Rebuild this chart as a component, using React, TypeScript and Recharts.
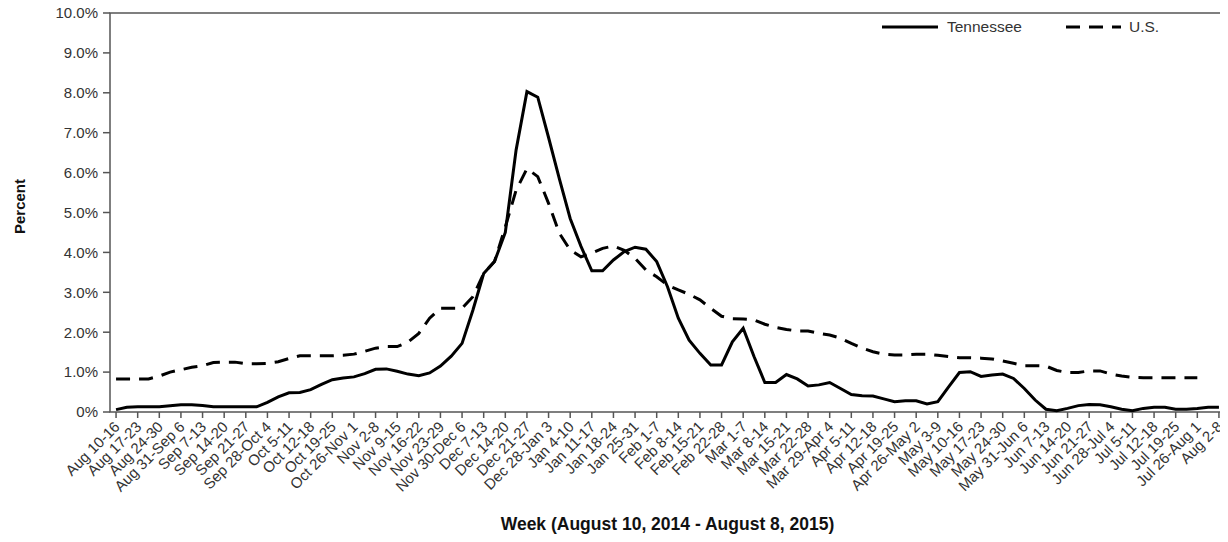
import React from 'react';
import { LineChart, Line, XAxis, YAxis, ReferenceArea, Legend } from 'recharts';

const weekLabels: string[] = [
  'Aug 10-16', 'Aug 17-23', 'Aug 24-30', 'Aug 31-Sep 6', 'Sep 7-13', 'Sep 14-20', 'Sep 21-27',
  'Sep 28-Oct 4', 'Oct 5-11', 'Oct 12-18', 'Oct 19-25', 'Oct 26-Nov 1', 'Nov 2-8', 'Nov 9-15',
  'Nov 16-22', 'Nov 23-29', 'Nov 30-Dec 6', 'Dec 7-13', 'Dec 14-20', 'Dec 21-27', 'Dec 28-Jan 3',
  'Jan 4-10', 'Jan 11-17', 'Jan 18-24', 'Jan 25-31', 'Feb 1-7', 'Feb 8-14', 'Feb 15-21',
  'Feb 22-28', 'Mar 1-7', 'Mar 8-14', 'Mar 15-21', 'Mar 22-28', 'Mar 29-Apr 4', 'Apr 5-11',
  'Apr 12-18', 'Apr 19-25', 'Apr 26-May 2', 'May 3-9', 'May 10-16', 'May 17-23', 'May 24-30',
  'May 31-Jun 6', 'Jun 7-13', 'Jun 14-20', 'Jun 21-27', 'Jun 28-Jul 4', 'Jul 5-11', 'Jul 12-18',
  'Jul 19-25', 'Jul 26-Aug 1', 'Aug 2-8',
];

const yTicks: number[] = [0, 1, 2, 3, 4, 5, 6, 7, 8, 9, 10];

// [week position, percent]
const tennesseePoints: [number, number][] = [
  [0, 0.06], [0.5, 0.12], [1, 0.13], [2, 0.13], [3, 0.18], [3.5, 0.18], [4, 0.16], [4.5, 0.13],
  [6, 0.13], [6.5, 0.13], [7, 0.24], [7.5, 0.38], [8, 0.48], [8.5, 0.49], [9, 0.56], [9.5, 0.69],
  [10, 0.81], [10.5, 0.85], [11, 0.88], [11.5, 0.96], [12, 1.07], [12.5, 1.08], [13, 1.02],
  [13.5, 0.95], [14, 0.91], [14.5, 0.98], [15, 1.15], [15.5, 1.4], [16, 1.72], [16.5, 2.55],
  [17, 3.47], [17.5, 3.77], [18, 4.5], [18.5, 6.57], [19, 8.03], [19.5, 7.89], [20, 6.88],
  [20.5, 5.84], [21, 4.85], [21.5, 4.15], [22, 3.54], [22.5, 3.54], [23, 3.81], [23.5, 4.02],
  [24, 4.13], [24.5, 4.08], [25, 3.77], [25.5, 3.14], [26, 2.35], [26.5, 1.8], [27, 1.47],
  [27.5, 1.18], [28, 1.18], [28.5, 1.76], [29, 2.1], [29.5, 1.39], [30, 0.74], [30.5, 0.74],
  [31, 0.94], [31.5, 0.83], [32, 0.65], [32.5, 0.68], [33, 0.74], [33.5, 0.59], [34, 0.44],
  [34.5, 0.41], [35, 0.4], [35.5, 0.33], [36, 0.26], [36.5, 0.28], [37, 0.28], [37.5, 0.2],
  [38, 0.26], [38.5, 0.63], [39, 0.99], [39.5, 1.01], [40, 0.89], [40.5, 0.93], [41, 0.95],
  [41.5, 0.84], [42, 0.59], [42.5, 0.3], [43, 0.07], [43.5, 0.03], [44, 0.09], [44.5, 0.16],
  [45, 0.19], [45.5, 0.18], [46, 0.13], [46.5, 0.07], [47, 0.03], [47.5, 0.09], [48, 0.12],
  [48.5, 0.12], [49, 0.07], [49.5, 0.07], [50, 0.09], [50.5, 0.12], [51, 0.12],
];

const usPoints: [number, number][] = [
  [0, 0.83], [1, 0.83], [1.5, 0.83], [2, 0.9], [2.5, 1.0], [3, 1.06], [3.5, 1.12], [4, 1.16],
  [4.5, 1.24], [5, 1.25], [5.5, 1.25], [6, 1.21], [6.5, 1.21], [7, 1.22], [7.5, 1.26], [8, 1.34],
  [8.5, 1.41], [9, 1.41], [10, 1.41], [10.5, 1.42], [11, 1.45], [11.5, 1.52], [12, 1.6],
  [12.5, 1.64], [13, 1.64], [13.5, 1.75], [14, 1.97], [14.5, 2.35], [15, 2.6], [15.5, 2.6],
  [16, 2.6], [16.5, 2.89], [17, 3.47], [17.5, 3.77], [18, 4.64], [18.5, 5.56], [19, 6.1],
  [19.5, 5.9], [20, 5.23], [20.5, 4.48], [21, 4.06], [21.5, 3.89], [22, 3.98], [22.5, 4.1],
  [23, 4.16], [23.5, 4.05], [24, 3.85], [24.5, 3.56], [25, 3.39], [25.5, 3.18], [26, 3.06],
  [26.5, 2.95], [27, 2.81], [27.5, 2.6], [28, 2.4], [28.5, 2.34], [29, 2.33], [29.5, 2.31],
  [30, 2.2], [30.5, 2.12], [31, 2.07], [31.5, 2.03], [32, 2.03], [32.5, 1.97], [33, 1.93],
  [33.5, 1.85], [34, 1.72], [34.5, 1.6], [35, 1.51], [35.5, 1.45], [36, 1.43], [36.5, 1.43],
  [37, 1.45], [37.5, 1.45], [38, 1.42], [38.5, 1.39], [39, 1.36], [39.5, 1.36], [40, 1.35],
  [40.5, 1.33], [41, 1.28], [41.5, 1.22], [42, 1.16], [42.5, 1.16], [43, 1.15], [43.5, 1.04],
  [44, 0.99], [44.5, 0.99], [45, 1.03], [45.5, 1.03], [46, 0.95], [46.5, 0.9], [47, 0.87],
  [47.5, 0.86], [48, 0.86], [48.5, 0.86], [49, 0.86], [49.5, 0.86], [50, 0.86],
];

const tnData = tennesseePoints.map(([w, v]) => ({ w, v }));
const usData = usPoints.map(([w, v]) => ({ w, v }));
const xTicks = weekLabels.map((_, i) => i);

const FONT = '"Liberation Sans", Arial, Helvetica, sans-serif';
const TEXT = '#333333';
const FRAME = '#555555';
const DASH = '14 9';

const XTick = (props: any) => {
  const { x, y, payload } = props;
  const px = x + 1;
  const py = y + 4;
  return (
    <text
      x={px}
      y={py}
      dy="0.35em"
      transform={`rotate(-45, ${px}, ${py})`}
      textAnchor="end"
      fontSize={15}
      fontFamily={FONT}
      fill={TEXT}
    >
      {weekLabels[payload.value]}
    </text>
  );
};

const YLabel = (props: any) => {
  const vb = props.viewBox || { x: 0, y: 0, width: 0, height: 0 };
  const x = 25;
  const y = vb.y + vb.height / 2 - 6;
  return (
    <text
      x={x}
      y={y}
      transform={`rotate(-90, ${x}, ${y})`}
      textAnchor="middle"
      fontSize={15}
      fontWeight="bold"
      fontFamily={FONT}
      fill="#111"
    >
      Percent
    </text>
  );
};

const XLabel = (props: any) => {
  const vb = props.viewBox || { x: 0, y: 0, width: 0, height: 0 };
  return (
    <text
      x={vb.x + vb.width / 2}
      y={vb.y + 118}
      textAnchor="middle"
      fontSize={17.5}
      fontWeight="bold"
      fontFamily={FONT}
      fill="#111"
    >
      Week (August 10, 2014 - August 8, 2015)
    </text>
  );
};

const LegendContent = () => (
  <div
    style={{
      display: 'flex',
      alignItems: 'center',
      fontFamily: FONT,
      fontSize: 15.5,
      color: TEXT,
      lineHeight: '18px',
      whiteSpace: 'nowrap',
    }}
  >
    <svg width={56} height={8} style={{ display: 'block' }}>
      <line x1={0} y1={4} x2={56} y2={4} stroke="#000" strokeWidth={3} />
    </svg>
    <span style={{ marginLeft: 9 }}>Tennessee</span>
    <svg width={55} height={8} style={{ display: 'block', marginLeft: 44 }}>
      <line x1={0} y1={4} x2={55} y2={4} stroke="#000" strokeWidth={3} strokeDasharray={DASH} />
    </svg>
    <span style={{ marginLeft: 8 }}>U.S.</span>
  </div>
);

export default function App() {
  return (
    <div style={{ width: 1228, height: 542, marginTop: -8, marginLeft: -8, background: '#fff' }}>
      <LineChart width={1228} height={542} margin={{ top: 13, right: 3, bottom: 0, left: 0 }}>
        <XAxis
          dataKey="w"
          type="number"
          domain={[-0.28, 51.28]}
          ticks={xTicks}
          interval={0}
          allowDataOverflow
          height={130}
          axisLine={false}
          tickLine={{ stroke: FRAME, strokeWidth: 1.5 }}
          tickSize={6}
          tick={<XTick />}
          label={XLabel}
        />
        <YAxis
          type="number"
          domain={[0, 10]}
          ticks={yTicks}
          interval={0}
          width={110}
          axisLine={false}
          tickLine={{ stroke: FRAME, strokeWidth: 1.5 }}
          tickSize={7}
          tickMargin={5}
          tick={{ fontSize: 15, fontFamily: FONT, fill: TEXT }}
          tickFormatter={(v: number) => (v === 0 ? '0%' : `${v.toFixed(1)}%`)}
          label={YLabel}
        />
        <ReferenceArea
          x1={-0.28}
          x2={51.28}
          y1={0}
          y2={10}
          fill="none"
          stroke={FRAME}
          strokeWidth={1.5}
          ifOverflow="visible"
        />
        <Legend
          layout="horizontal"
          verticalAlign="middle"
          align="center"
          content={<LegendContent />}
          wrapperStyle={{ top: 18, left: 882, bottom: 'auto', right: 'auto', width: 'auto' }}
        />
        <Line
          data={tnData}
          dataKey="v"
          name="Tennessee"
          type="linear"
          stroke="#000"
          strokeWidth={3}
          dot={false}
          activeDot={false}
          isAnimationActive={false}
        />
        <Line
          data={usData}
          dataKey="v"
          name="U.S."
          type="linear"
          stroke="#000"
          strokeWidth={3}
          strokeDasharray={DASH}
          dot={false}
          activeDot={false}
          isAnimationActive={false}
        />
      </LineChart>
    </div>
  );
}
